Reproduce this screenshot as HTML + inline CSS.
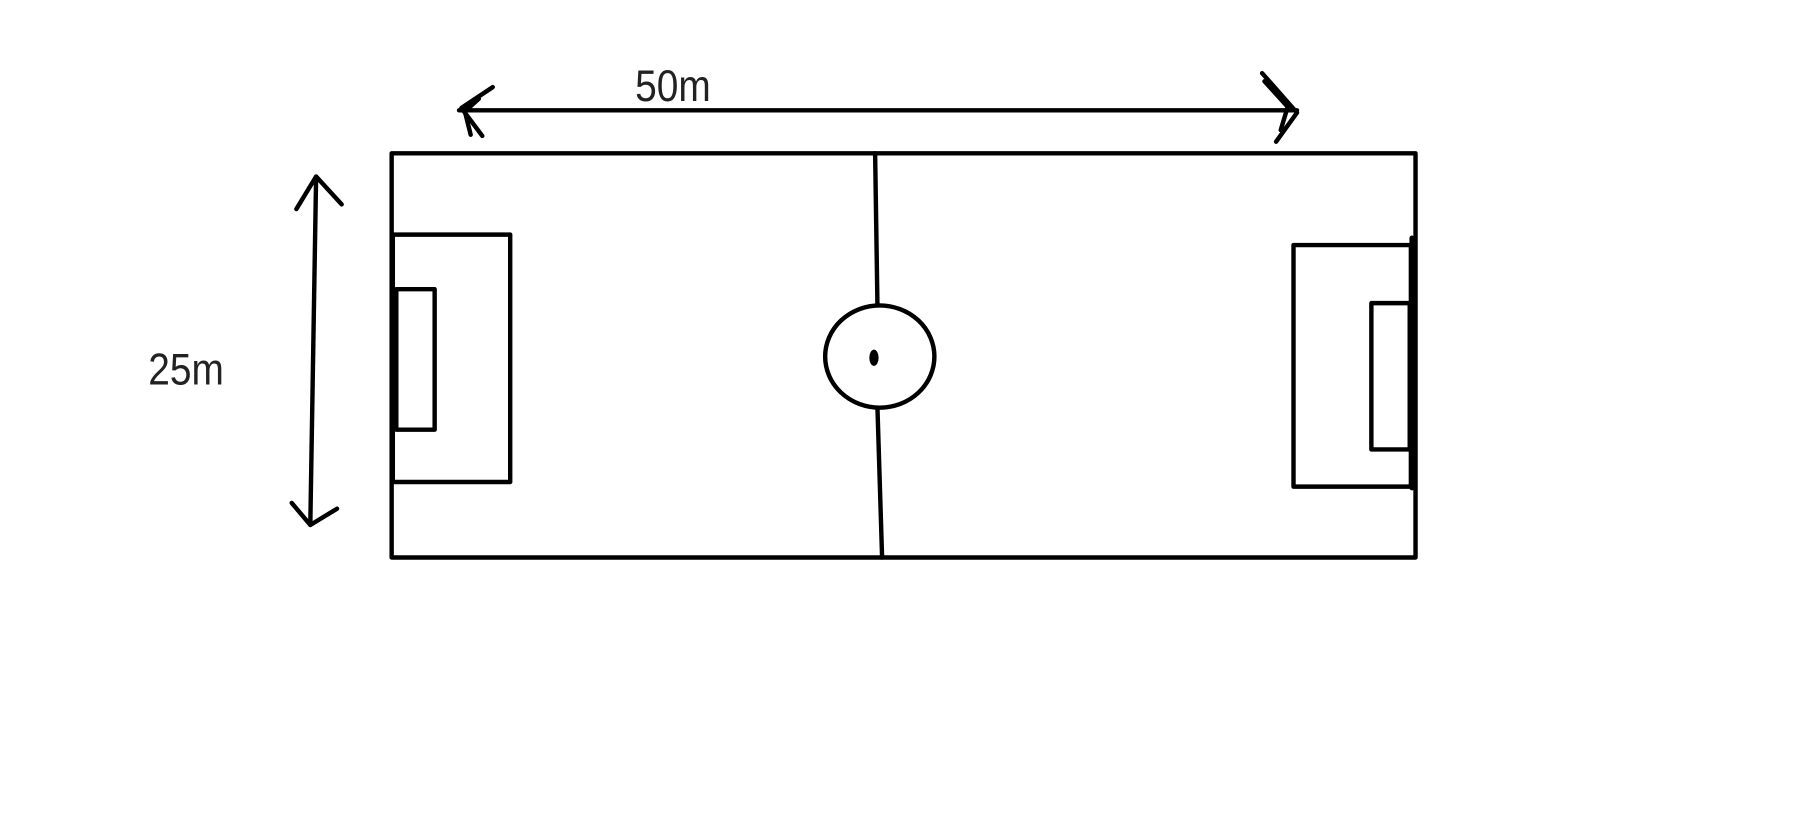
<!DOCTYPE html>
<html><head><style>html,body{margin:0;padding:0;background:#fff;}svg{display:block}</style></head>
<body>
<svg width="1813" height="813" viewBox="0 0 1560 700" preserveAspectRatio="none" xmlns="http://www.w3.org/2000/svg">
<rect width="1560" height="700" fill="#fff"/>
<g fill="none" stroke="#000" stroke-width="3.8" stroke-linejoin="round" stroke-linecap="round">
<rect x="337" y="132" width="881" height="348"/>
<line x1="753" y1="132" x2="755" y2="263"/>
<line x1="755" y1="351" x2="759" y2="480"/>
<ellipse cx="757" cy="307" rx="47" ry="44"/>
<rect x="338" y="202" width="101" height="213"/>
<rect x="341" y="249" width="33" height="121"/>
<rect x="1113" y="211" width="101" height="208"/>
<rect x="1180" y="261" width="33" height="126"/>
<line x1="1215" y1="205" x2="1215" y2="420" stroke-width="4.5"/>
<line x1="395" y1="95" x2="1116" y2="95"/>
<polyline points="424,75 397,93 415,117"/>
<polyline points="412,85 400,96 405,116"/>
<polyline points="1086,63 1116,97 1098,122"/>
<polyline points="1088,70 1108,92 1102,112"/>
<line x1="272" y1="152" x2="267" y2="452"/>
<polyline points="255,180 272,152 294,176"/>
<polyline points="251,433 267,452 290,438"/>
</g>
<ellipse cx="752" cy="308" rx="4" ry="7" fill="#000"/>
<g font-family="'Liberation Sans', 'DejaVu Sans', sans-serif" font-size="38" fill="#222" transform="scale(0.88,1)">
<text x="621" y="87">50m</text>
<text x="145" y="331">25m</text>
</g>
</svg>
</body></html>
